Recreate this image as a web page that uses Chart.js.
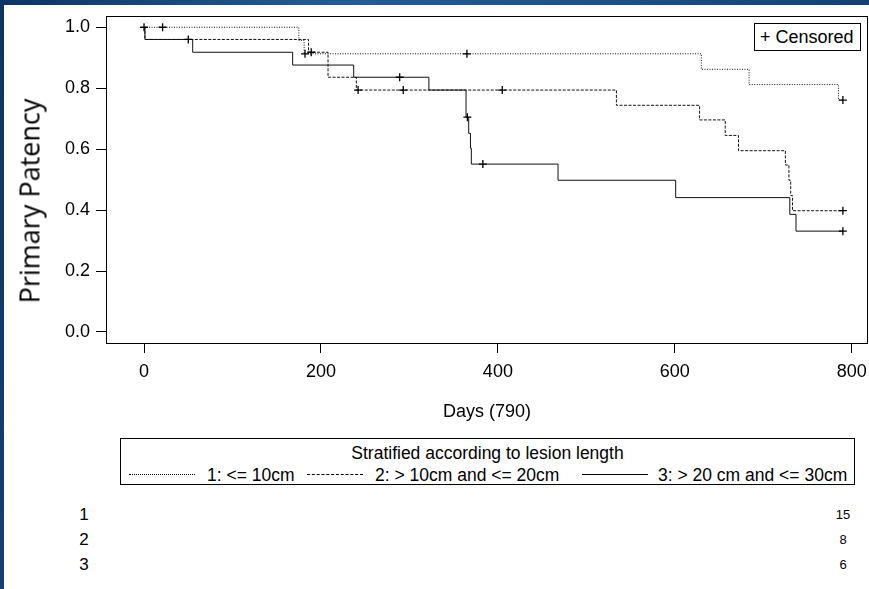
<!DOCTYPE html>
<html lang="en">
<head>
<meta charset="UTF-8">
<title>Primary Patency by Lesion Length</title>
<style>
  body {
    margin: 0;
    width: 869px;
    height: 589px;
    overflow: hidden;
    position: relative;
    background: linear-gradient(100deg, #0d3466 0%, #245c95 35%, #1b4f87 65%, #0f3a6e 100%);
    font-family: Arial, "Liberation Sans", sans-serif;
    color: #000;
  }
  #panel { position: absolute; left: 4px; top: 5px; right: 0; bottom: 0; background: #fff; }
  #chart { position: absolute; left: 0; top: 0; }
  .c { position: absolute; transform: translate(-50%, -50%); white-space: nowrap; line-height: 1; }
  .ytitle {
    position: absolute; left: 29px; top: 201px;
    transform: translate(-50%, -50%) rotate(-90deg);
    font-family: "Open Sans", sans-serif; font-size: 27px; white-space: nowrap; line-height: 1;
  }
  .censor-box {
    position: absolute; left: 754px; top: 23px; width: 107px; height: 28px;
    box-sizing: border-box; border: 1px solid #000; background: #fff;
    font-size: 18px; line-height: 26px; padding-left: 5px; white-space: nowrap;
  }
  .legend {
    position: absolute; left: 120px; top: 438px; width: 735px; height: 47px;
    box-sizing: border-box; border: 1px solid #000; background: #fff;
  }
  .legend .ttl { position: absolute; left: 0; right: 0; top: 5px; text-align: center; font-size: 17.5px; line-height: 18px; }
  .legend .item { position: absolute; top: 27px; font-size: 17.5px; line-height: 18px; white-space: nowrap; }
  .legend .sample { position: absolute; top: 35px; height: 0; border-top: 1px solid #000; }
  .rowid { font-size: 17px; }
  .risk { font-size: 13px; }
</style>
</head>
<body>
<div id="panel"></div>
<canvas id="chart" width="869" height="430"></canvas>
<div class="ytitle">Primary Patency</div>
<div class="censor-box">+ Censored</div>
<div class="legend" id="legend">
  <div class="ttl">Stratified according to lesion length</div>
</div>
<div id="table"></div>

<script src="https://cdn.jsdelivr.net/npm/chart.js"></script>
<script>
// Kaplan-Meier steps (day of drop, survival after drop)
const days1 = [0, 175, 181, 630, 684, 785, 790];
const surv1 = [1.0, 0.957, 0.913, 0.862, 0.812, 0.761, 0.761];
const cens1 = [0, 21, 182, 365, 790];

const days2 = [0, 1, 186, 208, 240, 534, 628, 657, 672, 725, 729, 731, 733, 790];
const surv2 = [1.0, 0.96, 0.918, 0.836, 0.794, 0.744, 0.696, 0.645, 0.595, 0.548, 0.498, 0.448, 0.398, 0.398];
const cens2 = [50, 189, 242, 293, 405, 790];

const days3 = [0, 1, 55, 168, 237, 322, 364, 367, 369, 370, 468, 601, 730, 737, 790];
const surv3 = [1.0, 0.96, 0.918, 0.876, 0.836, 0.794, 0.705, 0.652, 0.603, 0.551, 0.498, 0.441, 0.386, 0.331, 0.331];
const cens3 = [289, 365.5, 383, 790];

const xTicks = [0, 200, 400, 600, 800];
const yTicks = [0, 0.2, 0.4, 0.6, 0.8, 1.0];

const groupLabels = ['1: <= 10cm', '2: > 10cm and <= 20cm', '3: > 20 cm and <= 30cm'];
const groupIds = ['1', '2', '3'];
const atRisk = [15, 8, 6];

// survival value in force at day t
function survAt(days, surv, t) {
  let v = surv[0];
  for (let i = 0; i < days.length; i++) {
    if (days[i] <= t) v = surv[i];
  }
  return v;
}

function curve(days, surv, dash) {
  return {
    data: days.map((d, i) => ({ x: d, y: surv[i] })),
    showLine: true,
    stepped: true,
    borderColor: '#111',
    borderWidth: 1,
    borderDash: dash,
    pointRadius: 0
  };
}

function marks(cens, days, surv) {
  return {
    data: cens.map(t => ({ x: t, y: survAt(days, surv, t) })),
    showLine: false,
    pointStyle: 'cross',
    pointRadius: 4,
    borderColor: '#000',
    borderWidth: 1.3
  };
}

// draws the frame round the plot area
const frame = {
  id: 'frame',
  afterDatasetsDraw(chart) {
    const a = chart.chartArea;
    const ctx = chart.ctx;
    ctx.save();
    ctx.strokeStyle = '#000';
    ctx.lineWidth = 1;
    ctx.strokeRect(Math.round(a.left) + 0.5, Math.round(a.top) + 0.5,
      Math.round(a.right - a.left) - 1, Math.round(a.bottom - a.top));
    ctx.restore();
  }
};

const tickFont = { family: 'Arial, "Liberation Sans", sans-serif', size: 18 };

// keep the plot box where the picture has it, no extra room for edge labels
function noEdgePad(s) {
  s.paddingLeft = 0;
  s.paddingRight = 0;
  s.paddingTop = 0;
  s.paddingBottom = 0;
}

new Chart(document.getElementById('chart'), {
  type: 'scatter',
  data: {
    datasets: [
      marks(cens1, days1, surv1),
      marks(cens2, days2, surv2),
      marks(cens3, days3, surv3),
      curve(days1, surv1, [1, 1.5]),
      curve(days2, surv2, [3, 1.5]),
      curve(days3, surv3, [])
    ]
  },
  options: {
    responsive: false,
    animation: false,
    devicePixelRatio: 1,
    layout: { autoPadding: false, padding: { left: 0, top: 16, right: 1, bottom: 0 } },
    plugins: { legend: { display: false }, tooltip: { enabled: false } },
    scales: {
      x: {
        type: 'linear',
        min: -43,
        max: 818.4,
        afterBuildTicks: s => { s.ticks = xTicks.map(v => ({ value: v })); },
        afterFit: s => { s.height = 87; noEdgePad(s); },
        grid: { drawOnChartArea: false, drawTicks: true, tickLength: 10, color: '#000' },
        border: { display: false },
        ticks: { color: '#000', font: tickFont, padding: 8, maxRotation: 0, callback: v => String(v) },
        title: {
          display: true,
          text: 'Days (790)',
          color: '#000',
          font: { family: 'Arial, "Liberation Sans", sans-serif', size: 18 },
          padding: { top: 0, bottom: 7 }
        }
      },
      y: {
        type: 'linear',
        min: -0.0361,
        max: 1.037,
        afterBuildTicks: s => { s.ticks = yTicks.map(v => ({ value: v })); },
        afterFit: s => { s.width = 106; noEdgePad(s); },
        grid: { drawOnChartArea: false, drawTicks: true, tickLength: 10, color: '#000' },
        border: { display: false },
        ticks: { color: '#000', font: tickFont, padding: 6, callback: v => Number(v).toFixed(1) }
      }
    }
  },
  plugins: [frame]
});

// legend entries inside the stratification box
const legend = document.getElementById('legend');
const sampleX = [8, 186, 461];
const sampleW = [66, 56, 66];
const textX = [86, 254, 537];
const sampleStyle = ['dotted', 'dashed', 'solid'];
groupLabels.forEach((lab, i) => {
  const s = document.createElement('div');
  s.className = 'sample';
  s.style.left = sampleX[i] + 'px';
  s.style.width = sampleW[i] + 'px';
  s.style.borderTopStyle = sampleStyle[i];
  legend.appendChild(s);
  const t = document.createElement('div');
  t.className = 'item';
  t.style.left = textX[i] + 'px';
  t.textContent = lab;
  legend.appendChild(t);
});

// group ids and counts under the chart
const table = document.getElementById('table');
const rowY = [514, 539, 564];
groupIds.forEach((g, i) => {
  const a = document.createElement('div');
  a.className = 'c rowid';
  a.style.left = '84px';
  a.style.top = rowY[i] + 'px';
  a.textContent = g;
  table.appendChild(a);
  const b = document.createElement('div');
  b.className = 'c risk';
  b.style.left = '843px';
  b.style.top = rowY[i] + 'px';
  b.textContent = atRisk[i];
  table.appendChild(b);
});
</script>
</body>
</html>
